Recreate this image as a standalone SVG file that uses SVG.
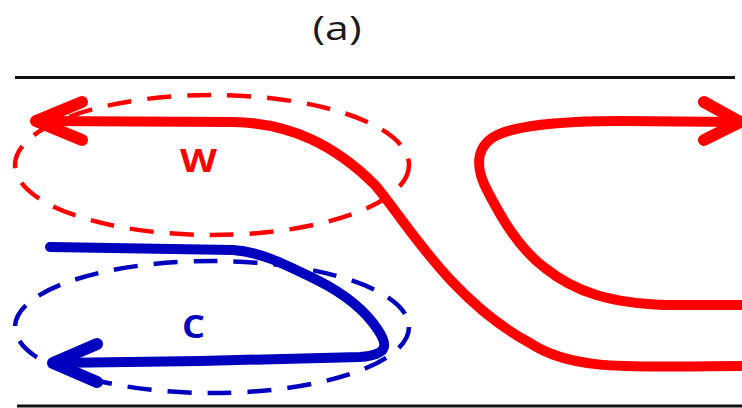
<svg xmlns="http://www.w3.org/2000/svg" width="742" height="408" viewBox="0 0 742 408">
<style>
.bound{stroke:#111;stroke-width:3;fill:none}
.ell{fill:none;stroke-width:4.5;stroke-dasharray:24 16}
.red{stroke:#FF0000}
.blue{stroke:#0000BE}
.flow{fill:none;stroke-width:10;stroke-linecap:round;stroke-linejoin:round}
.head{fill:none;stroke-width:12;stroke-linecap:round;stroke-linejoin:round}
.lbl{font-family:"Open Sans","DejaVu Sans",sans-serif;font-weight:bold;font-size:33px;text-anchor:middle}
.title{font-family:"Open Sans","DejaVu Sans",sans-serif;font-size:32px;fill:#1a1a1a;text-anchor:middle}
</style>
<rect width="742" height="408" fill="#fff"/>
<g id="title"><text class="title" x="337" y="40" textLength="49" lengthAdjust="spacingAndGlyphs">(a)</text></g>
<g id="boundaries">
<line class="bound" x1="15" y1="77.5" x2="735" y2="77.5"/>
<line class="bound" x1="17" y1="406" x2="742" y2="406"/>
</g>
<g id="node-W">
<ellipse class="ell red" cx="212" cy="165" rx="197" ry="70"/>
<text class="lbl" x="198.5" y="172" fill="#FF0000" textLength="37" lengthAdjust="spacingAndGlyphs">W</text>
</g>
<g id="node-C">
<ellipse class="ell blue" cx="212" cy="327" rx="197" ry="66"/>
<text class="lbl" x="193.5" y="338" fill="#0000BE" textLength="23" lengthAdjust="spacingAndGlyphs">C</text>
</g>
<g id="connectors">
<path class="flow red" d="M38,121 L233,122 C290,123 335,145 375,185 C405,220 450,300 530,343 C575,373 640,366 742,366"/>
<path class="head red" d="M82,102 L36,121 L82,140"/>
<path class="flow red" d="M738,122 L620,121 C560,121 510,126 492,138 C475,150 476,170 488,192 C500,215 518,248 545,268 C575,292 610,303 665,305 L742,305"/>
<path class="head red" d="M704,102 L740,122 L704,140"/>
<path class="flow blue" d="M50,247 L233,250 C260,252 280,262 317,280 C345,294 365,310 378,330 C390,348 385,355 360,357 L200,361 L55,363"/>
<path class="head blue" d="M97,344 L53,363 L97,382"/>
</g>
</svg>
